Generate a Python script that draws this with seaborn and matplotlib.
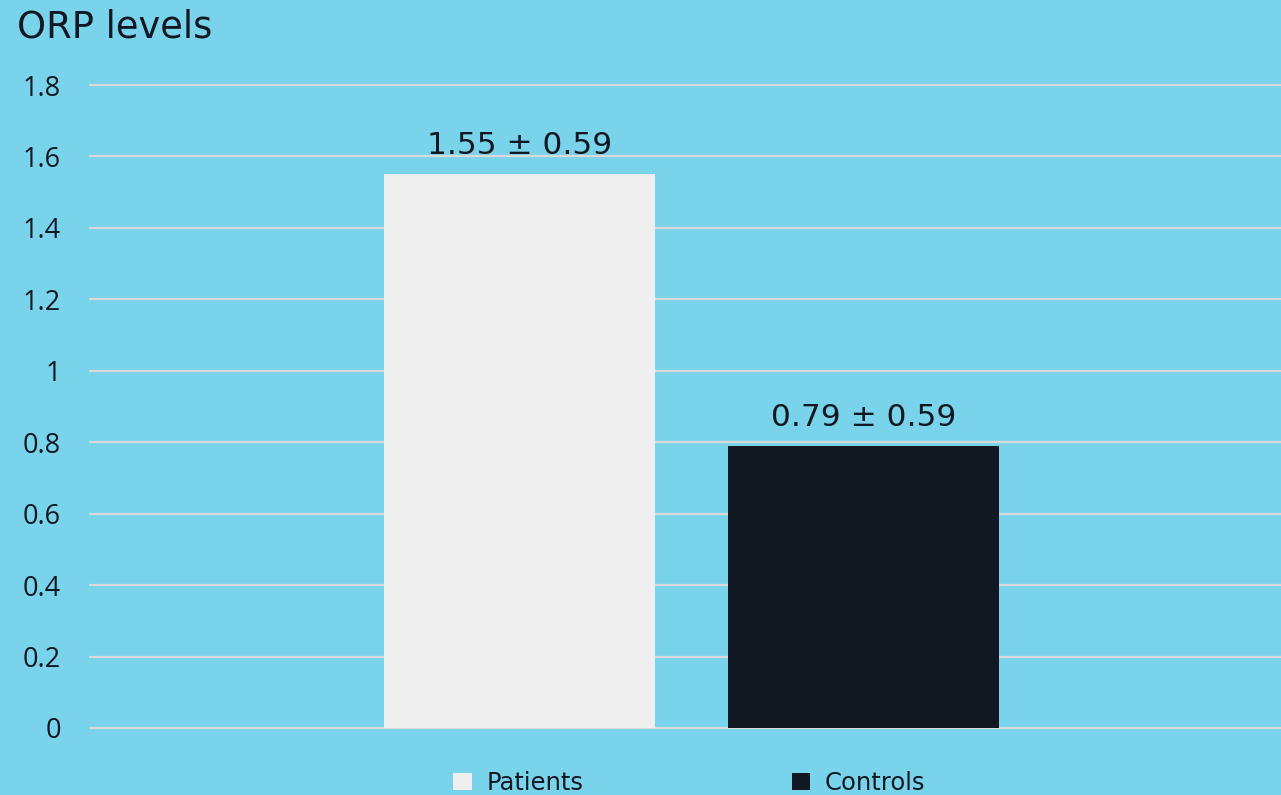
import matplotlib
matplotlib.use("Agg")
import matplotlib.pyplot as plt
from matplotlib.patches import Patch
import seaborn as sns
import pandas as pd

# Mean ORP levels per group with standard deviation
groups = ["Patients", "Controls"]
means = [1.55, 0.79]
sds = [0.59, 0.59]
bar_colors = ["#efefef", "#121822"]
yticks = [0, 0.2, 0.4, 0.6, 0.8, 1.0, 1.2, 1.4, 1.6, 1.8]
ytick_labels = ["0", "0.2", "0.4", "0.6", "0.8", "1", "1.2", "1.4", "1.6", "1.8"]

bg = "#79d3eb"
ink = "#121822"
label_font = "DejaVu Sans"
tick_font = "Open Sans"

sns.set_theme(style="white")
plt.rcParams["font.family"] = [label_font]

df = pd.DataFrame({"group": groups, "mean": means})

fig = plt.figure(figsize=(12.81, 7.95), dpi=100, facecolor=bg)
ax = fig.add_axes([90 / 1281, 67 / 795, 1 - 90 / 1281, (728 - 85) / 795])
ax.set_facecolor(bg)

sns.barplot(data=df, x="group", y="mean", hue="group", palette=bar_colors,
            width=0.785, saturation=1, legend=False, ax=ax, zorder=3,
            linewidth=0)

ax.set_ylim(0, 1.8)
ax.set_xlim(-1.2485, 2.2137)
ax.set_yticks(yticks)
ax.set_yticklabels(ytick_labels, fontfamily=tick_font, fontsize=19.5, color=ink)
ax.set_xticks([])
ax.set_xlabel("")
ax.set_ylabel("")
ax.tick_params(axis="y", length=0, pad=21)
for lbl in ax.get_yticklabels():
    lbl.set_horizontalalignment("right")

ax.grid(axis="y", color="#d9d9d9", linewidth=1.6, zorder=0)
ax.set_axisbelow(True)
for gl in ax.get_ygridlines():
    gl.set_clip_on(False)
for s in ax.spines.values():
    s.set_visible(False)

# Mean ± SD annotations above each bar
for i, (m, sd) in enumerate(zip(means, sds)):
    ax.text(i, m + 0.04, f"{m:.2f} \u00b1 {sd:.2f}", ha="center", va="bottom",
            fontsize=22.5, color=ink, fontfamily=label_font, zorder=4)

fig.text(17 / 1281, 1 - 8 / 795, "ORP levels", ha="left", va="top",
         fontsize=26.5, color=ink, fontfamily=label_font)

handles = [Patch(facecolor=c, edgecolor="none") for c in bar_colors]
leg = fig.legend(handles, groups, loc="center", bbox_to_anchor=(689.5 / 1281, 12 / 795),
                 ncol=2, frameon=False, fontsize=17.5, handlelength=0.75,
                 handleheight=0.75, handletextpad=0.6, columnspacing=8.6,
                 borderpad=0, borderaxespad=0)
for t in leg.get_texts():
    t.set_color(ink)

fig.savefig("out.png", dpi=100, facecolor=bg)
